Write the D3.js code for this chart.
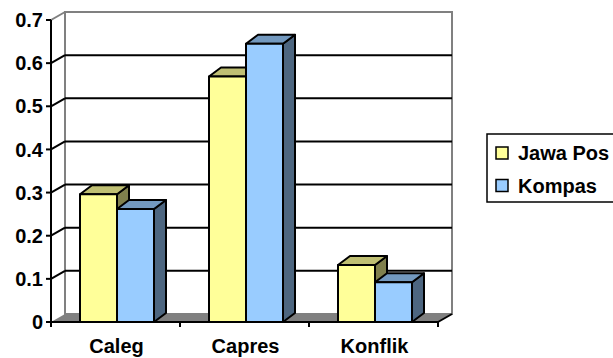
<!DOCTYPE html>
<html>
<head>
<meta charset="utf-8">
<style>
  body { margin: 0; background: #fff; }
  svg { display: block; }
  text { font-family: "Liberation Sans", Arial, sans-serif; font-weight: bold; font-size: 20px; fill: #000; }
</style>
</head>
<body>
<script src="https://d3js.org/d3.v7.min.js"></script>
<script>
var categories = ["Caleg", "Capres", "Konflik"];
var seriesNames = ["Jawa Pos", "Kompas"];
var jawaPos = [0.296, 0.569, 0.132];
var kompas = [0.262, 0.645, 0.092];
var yTicks = [0, 0.1, 0.2, 0.3, 0.4, 0.5, 0.6, 0.7];
var tickLabels = ["0", "0.1", "0.2", "0.3", "0.4", "0.5", "0.6", "0.7"];

var front = ["#FFFF99", "#99CCFF"],
    top3d = ["#BFBF73", "#7399BF"],
    side = ["#80804D", "#4D6680"];

var width = 613, height = 358;
var wallDx = 14, wallDy = -8;   // depth of the walls
var barDx = 12, barDy = -9;     // depth of the bars

var svg = d3.select("body").append("svg")
    .attr("width", width)
    .attr("height", height);

var y = d3.scaleLinear().domain([0, 0.7]).range([322, 20]);
var x0 = d3.scaleBand().domain(categories).range([51, 438]);
var x1 = d3.scaleBand().domain(seriesNames).range([29, 103]);

var left = x0.range()[0], right = x0.range()[1];
var yTop = y(0.7), yBase = y(0);

// back wall
svg.append("rect")
    .attr("x", left + wallDx).attr("y", yTop + wallDy)
    .attr("width", right - left).attr("height", yBase - yTop)
    .attr("fill", "#fff").attr("stroke", "#808080").attr("stroke-width", 2);

// gridlines on back wall + left wall
var grid = svg.append("g").attr("stroke", "#000").attr("stroke-width", 2);
yTicks.filter(function(t) { return t > 0 && t < 0.7; }).forEach(function(t) {
    grid.append("line")
        .attr("x1", left + wallDx).attr("x2", right + wallDx)
        .attr("y1", y(t) + wallDy).attr("y2", y(t) + wallDy);
    grid.append("line")
        .attr("x1", left).attr("x2", left + wallDx)
        .attr("y1", y(t)).attr("y2", y(t) + wallDy);
});
svg.append("line")
    .attr("x1", left).attr("x2", left + wallDx)
    .attr("y1", yTop).attr("y2", yTop + wallDy)
    .attr("stroke", "#808080").attr("stroke-width", 2);

// floor
svg.append("polygon")
    .attr("points", [[left, yBase], [right, yBase], [right + wallDx, yBase + wallDy], [left + wallDx, yBase + wallDy]].join(" "))
    .attr("fill", "#808080");
svg.append("line")
    .attr("x1", right).attr("y1", yBase)
    .attr("x2", right + wallDx).attr("y2", yBase + wallDy)
    .attr("stroke", "#000").attr("stroke-width", 2);

// bars
var data = [jawaPos, kompas];
categories.forEach(function(c, ci) {
    seriesNames.forEach(function(s, si) {
        var v = data[si][ci];
        var bx = x0(c) + x1(s), bw = x1.bandwidth();
        var by = y(v);
        var g = svg.append("g")
            .attr("stroke", "#000").attr("stroke-width", 2).attr("stroke-linejoin", "round");
        g.append("polygon")
            .attr("points", [[bx + bw, by], [bx + bw + barDx, by + barDy], [bx + bw + barDx, yBase + barDy], [bx + bw, yBase]].join(" "))
            .attr("fill", side[si]);
        g.append("polygon")
            .attr("points", [[bx, by], [bx + barDx, by + barDy], [bx + bw + barDx, by + barDy], [bx + bw, by]].join(" "))
            .attr("fill", top3d[si]);
        g.append("rect")
            .attr("x", bx).attr("y", by)
            .attr("width", bw).attr("height", yBase - by)
            .attr("fill", front[si]);
    });
});

// y axis
var yAxis = svg.append("g").attr("stroke", "#000").attr("stroke-width", 2);
yAxis.append("line")
    .attr("x1", left).attr("x2", left)
    .attr("y1", yTop).attr("y2", yBase + 5);
yTicks.forEach(function(t, i) {
    yAxis.append("line")
        .attr("x1", left - 5).attr("x2", left)
        .attr("y1", y(t)).attr("y2", y(t));
    svg.append("text")
        .attr("x", left - 8).attr("y", y(t))
        .attr("dy", "0.36em")
        .attr("text-anchor", "end")
        .text(tickLabels[i]);
});

// x axis
svg.append("line")
    .attr("x1", left).attr("x2", right)
    .attr("y1", yBase).attr("y2", yBase)
    .attr("stroke", "#000").attr("stroke-width", 2);
categories.forEach(function(c) {
    svg.append("line")
        .attr("x1", x0(c) + x0.bandwidth()).attr("x2", x0(c) + x0.bandwidth())
        .attr("y1", yBase).attr("y2", yBase + 5)
        .attr("stroke", "#000").attr("stroke-width", 2);
    svg.append("text")
        .attr("x", x0(c) + x0.bandwidth() / 2 + 1).attr("y", 353)
        .attr("text-anchor", "middle")
        .text(c);
});

// legend
var legend = svg.append("g");
legend.append("rect")
    .attr("x", 487).attr("y", 134).attr("width", 140).attr("height", 68)
    .attr("fill", "#fff").attr("stroke", "#000").attr("stroke-width", 1.5);
seriesNames.forEach(function(s, i) {
    legend.append("rect")
        .attr("x", 496).attr("y", 147 + i * 32.5)
        .attr("width", 12).attr("height", 12)
        .attr("fill", front[i]).attr("stroke", "#000").attr("stroke-width", 1.5);
    legend.append("text")
        .attr("x", 518).attr("y", 160 + i * 32.5)
        .text(s);
});
</script>
</body>
</html>
